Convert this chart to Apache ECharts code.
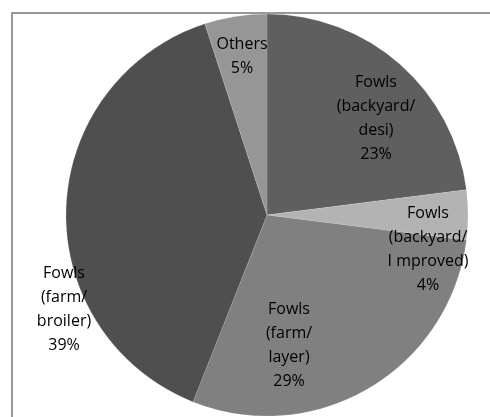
<!DOCTYPE html>
<html>
<head>
<meta charset="utf-8">
<script src="https://cdn.jsdelivr.net/npm/echarts@6/dist/echarts.min.js"></script>
<style>
  html, body { margin: 0; padding: 0; background: #fff; }
  #chart { width: 490px; height: 417px; }
</style>
</head>
<body>
<div id="chart"></div>
<script>
// Poultry population share by type (%)
const categories = [
  'Fowls\n(backyard/\ndesi)',
  'Fowls\n(backyard/\nI mproved)',
  'Fowls\n(farm/\nlayer)',
  'Fowls\n(farm/\nbroiler)',
  'Others'
];
const shares = [23, 4, 29, 39, 5];

const sliceColors = ['#5f5f5f', '#b3b3b3', '#808080', '#4f4f4f', '#969696'];
// Label anchor points (pixel centres of each label block)
const labelAnchors = [[376, 118], [428, 249], [289, 345], [64, 309], [242, 56]];

const chart = echarts.init(document.getElementById('chart'));
chart.setOption({
  animation: false,
  graphic: [{
    type: 'rect',
    shape: { x: 12, y: 13, width: 600, height: 600 },
    style: { fill: 'none', stroke: '#999999', lineWidth: 2 },
    silent: true
  }],
  series: [{
    type: 'pie',
    center: [267, 215],
    radius: [0, 201],
    startAngle: 90,
    clockwise: true,
    data: categories.map((name, i) => ({
      name: name,
      value: shares[i],
      itemStyle: { color: sliceColors[i] }
    })),
    itemStyle: { borderColor: 'rgba(255,255,255,0.25)', borderWidth: 0.5 },
    label: {
      show: true,
      position: 'inside',
      formatter: p => p.name + '\n' + p.value + '%',
      color: '#000',
      fontFamily: 'Open Sans',
      fontSize: 16,
      lineHeight: 24,
      align: 'center'
    },
    labelLine: { show: false },
    labelLayout: params => ({
      x: labelAnchors[params.dataIndex][0],
      y: labelAnchors[params.dataIndex][1],
      align: 'center',
      verticalAlign: 'middle'
    })
  }]
});
</script>
</body>
</html>
